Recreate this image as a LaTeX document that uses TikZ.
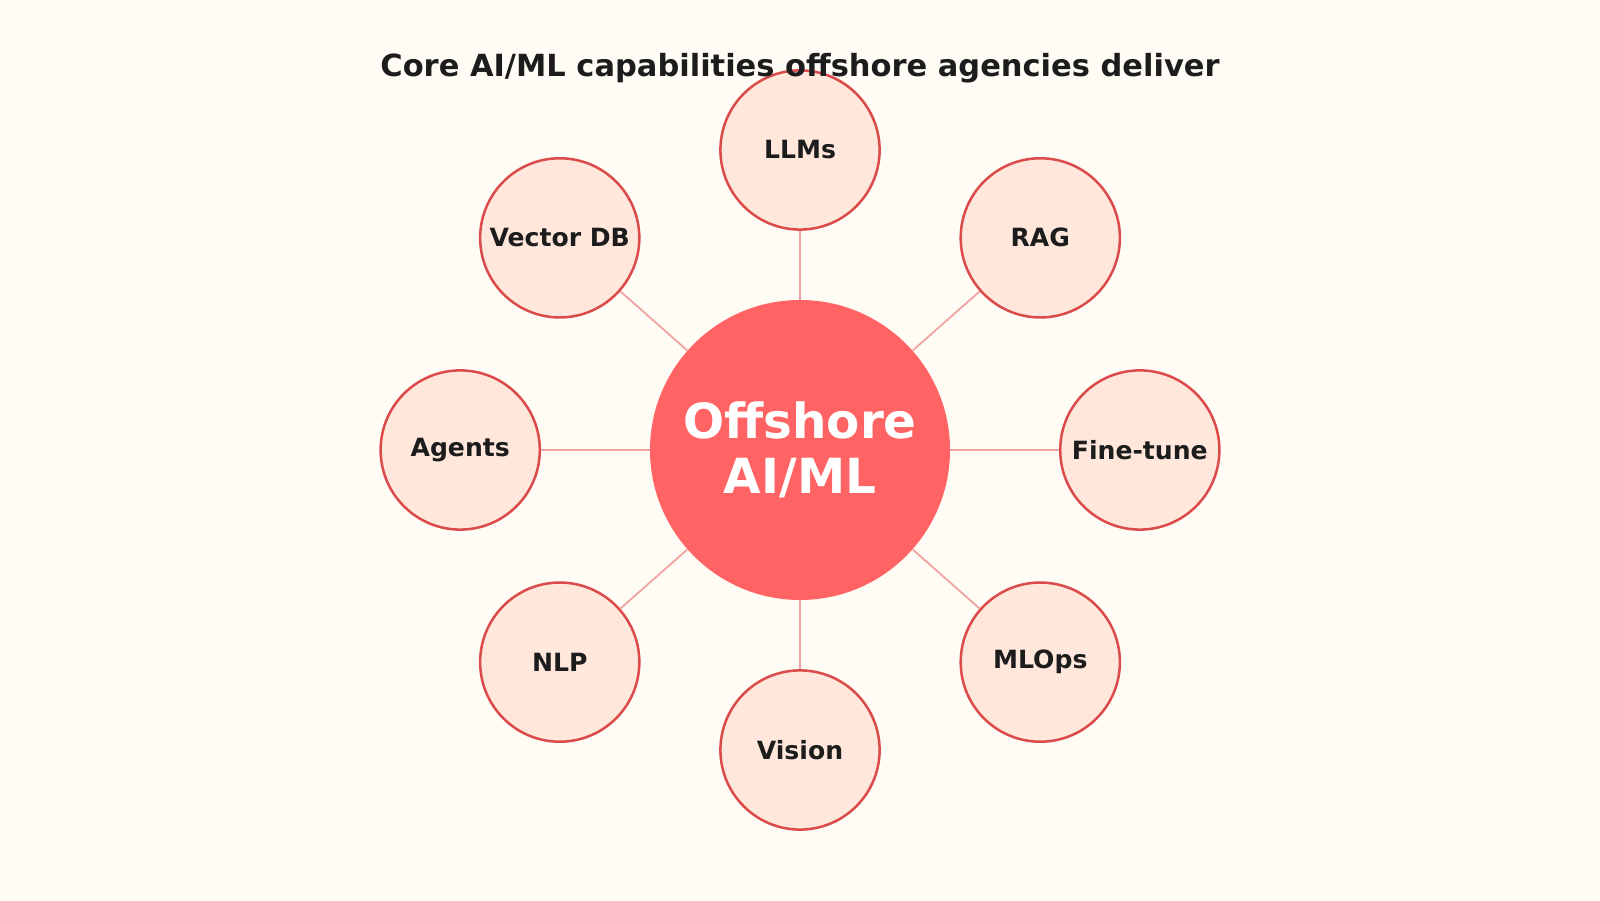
\documentclass[tikz,border=0pt]{standalone}
\usepackage{fontspec}
\setmainfont{DejaVu Sans}
\usetikzlibrary{positioning, calc}
\definecolor{bgcol}{HTML}{FFFCF6}
\definecolor{hubcol}{HTML}{FF6363}
\definecolor{leafcol}{HTML}{FFE7DC}
\definecolor{rimcol}{HTML}{DB4B4B}
\definecolor{spokecol}{HTML}{F0A3A0}
\definecolor{inkcol}{HTML}{1C1C1C}
\tikzset{
  hub/.style={circle, fill=hubcol, minimum size=5.88cm, inner sep=0pt, align=center, text=white, font=\bfseries\fontsize{27}{31}\selectfont},
  leaf/.style={circle, draw=rimcol, line width=1.4pt, fill=leafcol, minimum size=3.12cm, inner sep=0pt, text=inkcol, font=\bfseries\fontsize{14}{17}\selectfont},
  spoke/.style={draw=spokecol, line width=1pt}
}
\begin{document}
\begin{tikzpicture}
  \fill[bgcol] (0,0) rectangle (31.36,17.64);
  \useasboundingbox (0,0) rectangle (31.36,17.64);

  % Hub
  \node (hub) [hub] at (15.68,8.82) {Offshore\\AI/ML};

  % Satellites
  \foreach \ang/\name/\txt in {90/llms/LLMs, 45/rag/RAG, 0/fine/Fine-tune, -45/mlops/MLOps, -90/vision/Vision, -135/nlp/NLP, 180/agents/Agents, 135/vdb/Vector DB} {
    \node (\name) [leaf] at ($(15.68,8.82)+({6.66*cos(\ang)},{5.88*sin(\ang)})$) {\txt};
    \draw[spoke] (hub) -- (\name);
  }

  % Title
  \node (title) [text=inkcol, font=\bfseries\fontsize{17}{20}\selectfont] at (15.68,16.3) {Core AI/ML capabilities offshore agencies deliver};
\end{tikzpicture}
\end{document}
